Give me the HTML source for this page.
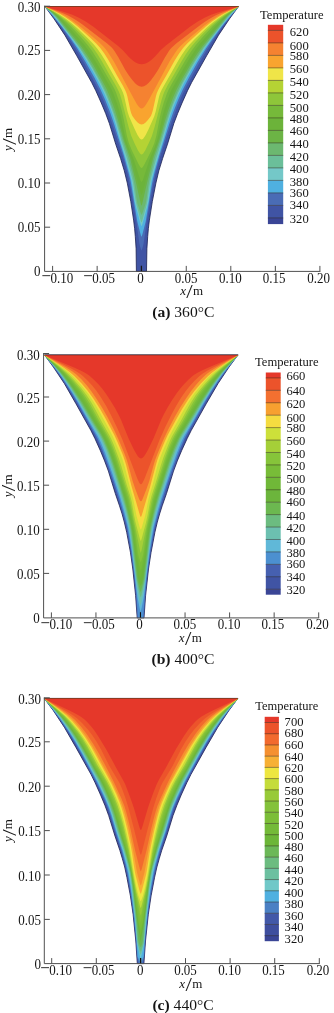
<!DOCTYPE html>
<html><head><meta charset="utf-8"><title>Temperature contours</title>
<style>html,body{margin:0;padding:0;background:#fff}svg{display:block}</style></head>
<body>
<svg xmlns="http://www.w3.org/2000/svg" width="334" height="1013" viewBox="0 0 334 1013">
<g>
<polygon points="45,6.5 54,18.8 64.9,35.2 76.8,55.8 91.7,82.5 95.8,90.7 101.3,103 105.6,113.3 109.4,123.5 115.7,144.1 120.6,158.5 124.3,170.8 127.3,183.1 130.8,201.6 133.6,220.1 134.6,228.3 135.3,236.5 136.1,248.8 136.4,271.4 146.5,271.4 146.9,248.8 147.7,236.5 148.4,228.3 149.4,220.1 152.3,201.6 155.9,183.1 158.8,170.8 162.6,158.5 167.5,144.1 173.8,123.5 177.7,113.3 182,103 187.5,90.7 191.6,82.5 206.6,55.8 218.5,35.2 229.5,18.8 238.5,6.5" fill="#4054a4" stroke="#1c2152" stroke-width="0.8" stroke-linejoin="round"/>
<polygon points="44.8,6.5 61,27 69.8,39.5 76.5,50 84.7,64 97.2,87 101.3,95.5 106.4,107.5 111.1,120.5 122.4,155 124.9,163.5 127.9,175 130.5,187.5 136.3,221.5 139.4,243.5 140.1,246.5 141.5,250.8 142.9,246.5 143.6,243.5 146.7,221.5 152.6,187.5 155.2,175 158.3,163.5 160.7,155 172.1,120.5 176.9,107.5 182,95.5 186.1,87 198.7,64 206.9,50 213.7,39.5 222.4,27 238.8,6.5" fill="#4a6cb5"/>
<polygon points="44.8,6.5 52.2,15 61.7,26.5 70.9,39 77.4,48.5 85.9,62.5 94.6,78 100.5,89.5 105,99.5 109.8,111.5 113.9,123.5 123.7,155 128.4,172 130.2,179 131.3,185 137.3,221.5 140.1,232.5 141.1,236 141.5,236.8 141.9,236 142.9,232.5 145.7,221.5 151.8,185 153,179 154.7,172 159.5,155 169.4,123.5 173.5,111.5 178.3,99.5 182.8,89.5 188.8,78 197.4,62.5 206,48.5 212.6,39 221.8,26.5 231.3,15 238.8,6.5" fill="#4fb0e0"/>
<polygon points="44.8,6.5 52.4,14.5 59.6,23 70.8,37.5 78.1,47.5 85.9,59.5 91.9,69.5 99.5,83.5 104.3,93.5 109.4,105.5 113,115.5 115.4,123.5 120,140 125.5,158 129.9,174 131.5,180.5 132.6,187 134.5,200 135.4,204.5 140.3,223 141.1,225.5 141.5,226 141.9,225.5 142.7,223 147.7,204.5 148.6,200 150.5,187 151.6,180.5 153.2,174 157.7,158 163.2,140 167.8,123.5 170.3,115.5 173.9,105.5 179,93.5 183.8,83.5 191.5,69.5 197.5,59.5 205.4,47.5 212.6,37.5 223.8,23 231.1,14.5 238.8,6.5" fill="#74c8c8"/>
<polygon points="44.8,6.5 52.1,13.5 57.1,19 73.5,40 79.4,48 86.3,58.5 92.4,68.5 100.4,83 105.1,92.5 110.1,104.5 113.9,115 116.4,123 121.2,140 126.8,158 130.9,173.5 132.6,180.5 133.7,187 135.4,199.5 136.4,204.5 140.5,220 141.1,221.9 141.5,222.3 141.9,221.9 142.5,220 146.7,204.5 147.7,199.5 149.4,187 150.5,180.5 152.2,173.5 156.4,158 162,140 166.9,123 169.4,115 173.2,104.5 178.3,92.5 183,83 191,68.5 197.1,58.5 204,48 210,40 226.4,19 231.3,13.5 238.8,6.5" fill="#6bbf9a"/>
<polygon points="44.8,6.5 51.8,12.5 56.6,17.5 80.1,47.5 86.8,57.5 92.9,67.5 101.3,82.5 105.8,91.5 110.2,102 114.4,113.5 117.3,122.5 122.5,140 128.2,157.5 131.9,171.5 133.8,180 134.9,186.5 136.6,199 137.4,203.5 140.4,212.5 141.1,214.2 141.5,214.7 142,214.2 142.7,212.5 145.7,203.5 146.5,199 148.2,186.5 149.3,180 151.3,171.5 154.9,157.5 160.7,140 165.9,122.5 168.8,113.5 173.1,102 177.5,91.5 182.1,82.5 190.4,67.5 196.6,57.5 203.3,47.5 226.9,17.5 231.7,12.5 238.8,6.5" fill="#6cb870"/>
<polygon points="44.8,6.5 52.3,12.5 55.1,15 57.5,17.5 60.5,21 81.5,47 87.3,55.5 93.2,65 102.3,81 106.8,89.5 110.6,98.5 114.9,110 118,120 123.5,139.5 130,158 136.1,183 140.6,203 141.2,205 141.5,205.7 141.9,205 142.4,203 147,183 153.2,158 159.7,139.5 165.2,120 168.4,110 172.7,98.5 176.6,89.5 181,81 190.2,65 196.1,55.5 202,47 222.9,21 225.9,17.5 228.4,15 231.1,12.5 238.8,6.5" fill="#6cb445"/>
<polygon points="44.8,6.5 53.6,13 56.5,15.5 59,18 63.1,22.5 82.8,46 87.8,53 93.8,62.5 103.9,80 108,87.5 110.1,92 112.4,97.5 114.8,104 117.1,111 119.6,119.5 124.2,138 126.2,144 131.6,158.5 140,190.5 141,194 141.5,195 142.1,194 143.1,190.5 151.5,158.5 157,144 159,138 163.7,119.5 166.2,111 168.5,104 170.9,97.5 173.2,92 175.4,87.5 179.5,80 189.6,62.5 195.6,53 200.6,46 220.4,22.5 224.5,18 227,15.5 229.9,13 238.8,6.5" fill="#6cb33a"/>
<polygon points="44.8,6.5 54.9,13.5 57.9,16 61.2,19 67.9,26 83.3,43.5 87.9,49.5 93.9,58.5 98.4,66 109.2,85 111.6,89.5 113.2,93 117,103.5 119.1,110 120.8,116.5 124.6,134.5 126.4,141 128.5,147 133.7,159.5 140.1,179.5 141,181.5 141.6,182 142.1,181.5 143.1,179.5 149.5,159.5 154.7,147 156.8,141 158.6,134.5 162.4,116.5 164.2,110 166.2,103.5 170.1,93 171.7,89.5 174.1,85 185,66 189.5,58.5 195.5,49.5 200.1,43.5 215.5,26 222.3,19 225.5,16 228.6,13.5 238.8,6.5" fill="#76b93a"/>
<polygon points="44.8,6.5 52.7,11.5 58.4,15.5 65,21 70.9,26.5 80.8,37 87.6,45 92.4,51.5 98.1,60.5 112.5,85.5 114.7,89.5 116.2,93 119.3,102 122,111.5 123.8,119.5 126.8,135.5 128.8,143 132.1,151 138.5,164 140.2,167 141,167.8 141.6,168 142.1,167.8 142.9,167 144.6,164 151.1,151 154.4,143 156.4,135.5 159.4,119.5 161.2,111.5 163.9,102 167.1,93 168.7,89.5 170.8,85.5 185.2,60.5 191,51.5 195.8,45 202.7,37 212.5,26.5 218.4,21 225.1,15.5 230.8,11.5 238.8,6.5" fill="#8ec63a"/>
<polygon points="44.8,6.5 53.3,11.5 58.8,15 66.2,20.5 72.2,25.5 80.8,34 88.3,42 93.2,48 97.4,54 102,61.5 109.3,74.5 115.5,85 118.8,91.5 120.2,95 121.8,100.5 128.6,127 131.3,136 134.6,143.5 138,150.5 140,153.5 140.9,154.3 141.6,154.5 142.3,154.3 143.2,153.5 145.2,150.5 148.6,143.5 151.9,136 154.6,127 161.4,100.5 163.1,95 164.5,91.5 167.8,85 174,74.5 181.4,61.5 186,54 190.2,48 195.2,42 202.6,34 211.3,25.5 217.3,20.5 224.7,15 230.1,11.5 238.8,6.5" fill="#b5d334"/>
<polygon points="44.8,6.5 53.4,11 59.5,14.5 65.4,18.5 71.3,23 76.5,27.5 88.5,39 93.8,44.5 97.9,49.5 101.7,55 105.1,60.5 121.6,89.5 123.1,93 124.2,96.5 127.5,111.5 129.1,116.5 134.4,128.5 137.5,135 139.8,138.5 140.8,139.3 141.6,139.5 142.4,139.3 143.4,138.5 145.7,135 148.9,128.5 154.2,116.5 155.7,111.5 159.1,96.5 160.2,93 161.8,89.5 178.3,60.5 181.7,55 185.5,49.5 189.6,44.5 194.9,39 206.9,27.5 212.1,23 218.1,18.5 224,14.5 230.1,11 238.8,6.5" fill="#f0e548"/>
<polygon points="44.8,6.5 54.3,11 60.1,14 65,17 71.4,21.5 77.7,26.5 90.5,38 96.2,43.5 100.3,48 104.3,53.5 108.7,60.5 116.7,75 122.8,85.5 125.1,90 126.4,93 127.3,96 130.4,110.5 131.3,113.5 132.4,116 135.3,120 137.6,122.5 139.7,124 141.6,124.5 143.6,124 145.6,122.5 147.9,120 150.9,116 151.9,113.5 152.8,110.5 156,96 156.9,93 158.2,90 160.5,85.5 166.6,75 174.7,60.5 179.1,53.5 183.1,48 187.2,43.5 193,38 205.8,26.5 212,21.5 218.5,17 223.4,14 229.2,11 238.8,6.5" fill="#f9a42f"/>
<polygon points="44.8,6.5 55.3,11 61.6,14 66.1,16.5 72.3,20.5 79,25.5 93.5,37.5 99.3,42.5 103.4,46.5 105.6,49 108.1,52.5 113.9,61.5 134,99 136.5,103.5 138.2,106 139.6,107.5 140.7,108.3 141.6,108.5 142.5,108.3 143.7,107.5 145,106 146.7,103.5 149.3,99 169.5,61.5 175.3,52.5 177.8,49 180,46.5 184.2,42.5 190,37.5 204.4,25.5 211.2,20.5 217.4,16.5 221.8,14 228.2,11 238.8,6.5" fill="#f58231"/>
<polygon points="44.8,6.5 57.3,11 63.7,13.5 68.1,15.5 73.4,18.5 78.2,21.5 82.5,24.5 107.2,43.5 111.7,47.5 113,49 114.8,51.5 118.5,57.5 125.3,70 128.9,75.5 132.3,80 134.9,83 137.1,85 139.4,86.3 141.7,86.8 143.9,86.3 146.2,85 148.5,83 151.1,80 154.4,75.5 158,70 164.9,57.5 168.6,51.5 170.4,49 171.8,47.5 176.2,43.5 201,24.5 205.3,21.5 210.1,18.5 215.4,15.5 219.8,13.5 226.2,11 238.8,6.5" fill="#ec532b"/>
<polygon points="44.8,6.5 62.5,11.5 71.8,14.5 78.4,17.5 85.7,21.5 93.1,26.5 117.5,45.5 122.6,50 128.4,56.5 131,59 133.4,61 135.7,62.5 137.7,63.5 139.7,64.1 141.7,64.3 143.7,64.1 145.6,63.5 147.7,62.5 150,61 152.4,59 155,56.5 160.8,50 165.9,45.5 190.3,26.5 197.8,21.5 205,17.5 211.7,14.5 221,11.5 238.8,6.5" fill="#e5382a"/>
<line x1="44.75" y1="6.5" x2="238.75" y2="6.5" stroke="#40261c" stroke-width="0.8" opacity="0.75"/>
<g stroke="#505050" stroke-width="1" fill="none">
<path d="M44.6 5.7 V271.4 H320.4"/>
<path d="M52.6 271.4 v-5.5M97.15 271.4 v-5.5M141.7 271.4 v-5.5M186.25 271.4 v-5.5M230.8 271.4 v-5.5M275.35 271.4 v-5.5M319.9 271.4 v-5.5M44.6 227.2 h5.5M44.6 183 h5.5M44.6 138.8 h5.5M44.6 94.6 h5.5M44.6 50.4 h5.5M44.6 6.2 h5.5"/>
</g>
<line x1="141.36" y1="271" x2="141.36" y2="265.8" stroke="#111" stroke-width="1.1"/>
<g font-family='"Liberation Serif", "DejaVu Serif", serif' font-size="13" fill="#151515">
<text transform="translate(41.5 282.75) scale(1 1.08)"><tspan font-size="17" dy="-0.5">−</tspan><tspan dy="0.5" dx="-0.6">0.10</tspan></text>
<text transform="translate(83.3 282.75) scale(1 1.08)"><tspan font-size="17" dy="-0.5">−</tspan><tspan dy="0.5" dx="-0.6">0.05</tspan></text>
<text transform="translate(140.5 282.75) scale(1 1.08)" text-anchor="middle">0</text>
<text transform="translate(186.1 282.75) scale(1 1.08)" text-anchor="middle">0.05</text>
<text transform="translate(230.3 282.75) scale(1 1.08)" text-anchor="middle">0.10</text>
<text transform="translate(274.1 282.75) scale(1 1.08)" text-anchor="middle">0.15</text>
<text transform="translate(318.7 282.75) scale(1 1.08)" text-anchor="middle">0.20</text>
<text transform="translate(40.6 276.15) scale(1 1.08)" text-anchor="end">0</text>
<text transform="translate(40.6 232.25) scale(1 1.08)" text-anchor="end">0.05</text>
<text transform="translate(40.6 188.05) scale(1 1.08)" text-anchor="end">0.10</text>
<text transform="translate(40.6 143.85) scale(1 1.08)" text-anchor="end">0.15</text>
<text transform="translate(40.6 99.65) scale(1 1.08)" text-anchor="end">0.20</text>
<text transform="translate(40.6 55.45) scale(1 1.08)" text-anchor="end">0.25</text>
<text transform="translate(40.6 12.25) scale(1 1.08)" text-anchor="end">0.30</text>
<text x="180.2" y="295"><tspan font-style="italic">x</tspan><tspan font-size="18" dx="0.4" dy="3.4" textLength="6.4" lengthAdjust="spacingAndGlyphs">/</tspan><tspan dy="-3.4" dx="0.3">m</tspan></text>
<text transform="translate(12.4 150.95) rotate(-90)"><tspan font-style="italic">y</tspan><tspan font-size="18" dx="0.4" dy="3.4" textLength="6.4" lengthAdjust="spacingAndGlyphs">/</tspan><tspan dy="-3.4" dx="0.3">m</tspan></text>
</g>
<text x="183.3" y="317.1" font-family='"Liberation Serif", "DejaVu Serif", serif' font-size="15.6" fill="#151515" text-anchor="middle"><tspan font-weight="bold">(a)</tspan> 360°C</text>
<text x="260" y="18.5" font-family='"Liberation Serif", "DejaVu Serif", serif' font-size="13" fill="#151515" textLength="63.5" lengthAdjust="spacingAndGlyphs">Temperature</text>
<rect x="267.9" y="24.8" width="15.3" height="5.9" fill="#e5382a"/>
<rect x="267.9" y="30.4" width="15.3" height="12.8" fill="#ec532b"/>
<rect x="267.9" y="42.9" width="15.3" height="12.8" fill="#f58231"/>
<rect x="267.9" y="55.4" width="15.3" height="12.8" fill="#f9a42f"/>
<rect x="267.9" y="67.9" width="15.3" height="12.8" fill="#f0e548"/>
<rect x="267.9" y="80.4" width="15.3" height="12.8" fill="#b5d334"/>
<rect x="267.9" y="92.9" width="15.3" height="12.8" fill="#8ec63a"/>
<rect x="267.9" y="105.4" width="15.3" height="12.8" fill="#76b93a"/>
<rect x="267.9" y="117.9" width="15.3" height="12.8" fill="#6cb33a"/>
<rect x="267.9" y="130.4" width="15.3" height="12.8" fill="#6cb445"/>
<rect x="267.9" y="142.9" width="15.3" height="12.8" fill="#6cb870"/>
<rect x="267.9" y="155.4" width="15.3" height="12.8" fill="#6bbf9a"/>
<rect x="267.9" y="167.9" width="15.3" height="12.8" fill="#74c8c8"/>
<rect x="267.9" y="180.4" width="15.3" height="12.8" fill="#4fb0e0"/>
<rect x="267.9" y="192.9" width="15.3" height="12.8" fill="#4a6cb5"/>
<rect x="267.9" y="205.4" width="15.3" height="12.8" fill="#4054a4"/>
<rect x="267.9" y="217.9" width="15.3" height="6.2" fill="#3a4596"/>
<path d="M267.9 30.4 h15.3M267.9 42.9 h15.3M267.9 55.4 h15.3M267.9 67.9 h15.3M267.9 80.4 h15.3M267.9 92.9 h15.3M267.9 105.4 h15.3M267.9 117.9 h15.3M267.9 130.4 h15.3M267.9 142.9 h15.3M267.9 155.4 h15.3M267.9 167.9 h15.3M267.9 180.4 h15.3M267.9 192.9 h15.3M267.9 205.4 h15.3M267.9 217.9 h15.3" stroke="#30281c" stroke-width="0.7" opacity="0.7"/>
<g font-family='"Liberation Serif", "DejaVu Serif", serif' font-size="12.6" fill="#151515">
<text transform="translate(289.8 36.25) scale(1 1.06)">620</text>
<text transform="translate(289.8 49.65) scale(1 1.06)">600</text>
<text transform="translate(289.8 60.45) scale(1 1.06)">580</text>
<text transform="translate(289.8 73.05) scale(1 1.06)">560</text>
<text transform="translate(289.8 86.45) scale(1 1.06)">540</text>
<text transform="translate(289.8 98.65) scale(1 1.06)">520</text>
<text transform="translate(289.8 112.45) scale(1 1.06)">500</text>
<text transform="translate(289.8 123.05) scale(1 1.06)">480</text>
<text transform="translate(289.8 135.15) scale(1 1.06)">460</text>
<text transform="translate(289.8 147.75) scale(1 1.06)">440</text>
<text transform="translate(289.8 160.95) scale(1 1.06)">420</text>
<text transform="translate(289.8 172.75) scale(1 1.06)">400</text>
<text transform="translate(289.8 185.75) scale(1 1.06)">380</text>
<text transform="translate(289.8 197.05) scale(1 1.06)">360</text>
<text transform="translate(289.8 209.15) scale(1 1.06)">340</text>
<text transform="translate(289.8 222.65) scale(1 1.06)">320</text>
</g>
</g>
<g>
<polygon points="44.5,354.9 53.4,367.1 64.3,383.4 76,403.8 90.8,430.3 94.9,438.5 100.4,450.7 104.6,460.9 108.4,471.1 115.3,493.5 119.5,505.8 122.1,513.9 124.3,522.1 126.7,532.3 130.5,552.7 132.8,569 135.6,595.5 137.2,617.9 144,617.9 145.6,595.5 148.5,569 151,552.7 154.9,532.3 157.3,522.1 159.6,513.9 162.2,505.8 166.5,493.5 173.5,471.1 177.3,460.9 181.6,450.7 187.2,438.5 191.3,430.3 206.2,403.8 218.1,383.4 229,367.1 238,354.9" fill="#4054a4" stroke="#1c2152" stroke-width="0.8" stroke-linejoin="round"/>
<polygon points="44.2,354.9 53.5,366.9 59.9,375.9 67.7,387.9 75.4,400.9 86.2,420.4 93.9,433.4 96.5,438.4 101,448.9 106.9,464.9 114.2,486.4 120.9,507.9 125,522.4 126.9,530.4 130.7,551.4 133.8,573.9 135.9,595.4 137.3,617.9 143.8,617.9 145.4,595.4 147.6,573.9 150.8,551.4 154.6,530.4 156.6,522.4 160.8,507.9 167.7,486.4 175.1,464.9 181,448.9 185.5,438.4 188.2,433.4 196,420.4 206.8,400.9 214.7,387.9 222.5,375.9 229,366.9 238.2,354.9" fill="#4660b0"/>
<polygon points="44.2,354.9 54,366.9 60.7,375.9 69,388.4 76.9,401.4 94.6,432.9 97.6,438.4 102.5,449.9 108.5,465.9 113.8,481.4 119.4,498.9 123.6,513.4 126.6,524.4 127.8,529.9 131.2,549.9 134.5,575.4 136.6,596.4 137.9,617.9 143.2,617.9 144.7,596.4 146.8,575.4 150.3,549.9 153.8,529.9 155.1,524.4 158.1,513.4 162.3,498.9 168,481.4 173.4,465.9 179.5,449.9 184.5,438.4 187.4,432.9 205.3,401.4 213.3,388.4 221.7,375.9 228.5,366.9 238.2,354.9" fill="#4c90d0"/>
<polygon points="44.2,354.9 53.6,365.9 59.9,373.9 66.5,383.4 73,393.4 79,403.4 89.2,421.4 97.7,435.9 101.1,442.9 105.1,452.9 111.5,470.9 119.9,496.4 123.9,510.4 128,526.4 129.9,536.9 132,551.4 137.5,597.4 139.5,607.4 140.6,612 141.7,607.4 143.7,597.4 149.5,551.4 151.7,536.9 153.6,526.4 157.8,510.4 161.9,496.4 170.4,470.9 176.9,452.9 180.9,442.9 184.3,435.9 192.9,421.4 203.2,403.4 209.3,393.4 215.8,383.4 222.5,373.9 228.9,365.9 238.2,354.9" fill="#60b8d8"/>
<polygon points="44.2,354.9 53.5,365.4 59.6,372.9 65.5,380.9 71.5,389.9 78.7,401.4 90.3,421.4 98.9,435.4 101.7,440.9 105.5,449.9 111.5,466.9 121.3,497.4 125.2,510.9 128.2,523.4 129.5,529.9 131.4,542.4 137,587.4 138.6,596.9 140.6,606 142.6,596.9 144.3,587.4 150.1,542.4 152,529.9 153.4,523.4 156.5,510.9 160.4,497.4 170.4,466.9 176.5,449.9 180.3,440.9 183.2,435.4 191.8,421.4 203.6,401.4 210.8,389.9 216.9,380.9 222.8,372.9 229,365.4 238.2,354.9" fill="#6cc0b0"/>
<polygon points="44.2,354.9 53.4,364.9 59.8,372.4 65.5,379.9 71.4,388.4 79.9,401.9 91.5,421.4 99.8,434.9 102.5,439.9 106.6,449.4 112.2,464.9 122,495.9 125.4,507.4 127.5,515.9 129.8,526.4 131.2,535.4 136.5,579.4 139.7,594.4 140.6,597.6 141.6,594.4 144.9,579.4 150.3,535.4 151.8,526.4 154.1,515.9 156.3,507.4 159.7,495.9 169.8,464.9 175.5,449.4 179.6,439.9 182.3,434.9 190.7,421.4 202.3,401.9 210.9,388.4 216.8,379.9 222.6,372.4 229,364.9 238.2,354.9" fill="#6cbc80"/>
<polygon points="44.2,354.9 53.9,364.9 60.6,372.4 66.5,379.9 72.5,388.4 81.5,402.4 93.1,421.9 100.8,434.4 103.7,439.9 107.4,448.4 111,457.9 114.5,468.4 123.9,498.4 128,513.9 130.5,525.4 131.8,532.9 133.4,545.9 137.1,577.9 137.9,581.9 140,590.4 140.6,592 141.2,590.4 143.4,581.9 144.2,577.9 148.1,545.9 149.8,532.9 151.1,525.4 153.6,513.9 157.8,498.4 167.4,468.4 171,457.9 174.6,448.4 178.4,439.9 181.3,434.4 189.1,421.9 200.8,402.4 209.9,388.4 215.9,379.9 221.8,372.4 228.6,364.9 238.2,354.9" fill="#6cb850"/>
<polygon points="44.2,354.9 54.4,364.9 61.4,372.4 67.5,379.9 73.6,388.4 83.1,402.9 94.3,421.9 101.7,433.9 104.6,439.4 107.7,446.4 111.4,455.9 115.2,466.9 120.3,483.9 124.8,497.9 128.2,510.9 131,523.4 132.2,529.9 133.9,542.9 138,576.9 138.8,580.9 140.1,584.9 140.6,586 141.2,584.9 142.5,580.9 143.4,576.9 147.6,542.9 149.4,529.9 150.6,523.4 153.5,510.9 156.9,497.9 161.5,483.9 166.8,466.9 170.6,455.9 174.3,446.4 177.4,439.4 180.4,433.9 187.8,421.9 199.2,402.9 208.7,388.4 214.9,379.9 221,372.4 228.1,364.9 238.2,354.9" fill="#6cb53c"/>
<polygon points="44.2,354.9 55.4,365.4 62.2,372.4 68.5,379.9 74.9,388.4 81,397.4 86.6,406.4 95.3,421.4 103.4,434.9 105.6,438.9 107.8,443.9 111.6,453.4 115.4,464.4 121.6,484.4 125.6,496.9 127.6,504.4 132.7,527.9 136.2,555.4 139.9,575.9 140.7,579 141.4,575.9 145.2,555.4 148.9,527.9 154.1,504.4 156.2,496.9 160.3,484.4 166.5,464.4 170.4,453.4 174.2,443.9 176.5,438.9 178.6,434.9 186.9,421.4 195.6,406.4 201.3,397.4 207.4,388.4 213.8,379.9 220.2,372.4 227.1,365.4 238.2,354.9" fill="#70b838"/>
<polygon points="44.2,354.9 55.9,365.4 63.1,372.4 69.7,379.9 76.3,388.4 81.6,395.9 86.6,403.9 96.6,421.4 104.4,434.4 107.7,440.9 111.6,450.4 115.6,461.4 127.5,499.9 133.5,527.4 134.5,533.9 137.1,554.9 139.9,567.9 140.7,571 141.5,567.9 144.3,554.9 147.1,533.9 148.1,527.4 154.2,499.9 166.4,461.4 170.4,450.4 174.4,440.9 177.7,434.4 185.6,421.4 195.6,403.9 200.7,395.9 206,388.4 212.7,379.9 219.3,372.4 226.5,365.4 238.2,354.9" fill="#78bc38"/>
<polygon points="44.2,354.9 56.6,365.4 64.1,372.4 71,379.9 78.2,388.9 83.3,395.9 87.7,402.9 97.7,420.9 105.7,434.4 108.3,439.4 112.3,448.9 116.1,459.4 128.4,498.9 134.6,528.4 138.1,553.9 139,557.4 140.3,561.4 140.7,562 141.1,561.4 142.4,557.4 143.3,553.9 147,528.4 153.4,498.9 165.9,459.4 169.7,448.9 173.8,439.4 176.4,434.4 184.4,420.9 194.6,402.9 199,395.9 204.1,388.9 211.4,379.9 218.3,372.4 225.9,365.4 238.2,354.9" fill="#86c43a"/>
<polygon points="44.2,354.9 57.9,365.9 65.8,372.9 73.3,380.9 80.4,389.4 85.1,395.9 89.6,402.9 99,420.4 106.6,433.4 109.3,438.4 113.3,447.9 117.1,458.4 129.4,497.9 130.7,503.9 133.3,517.9 136.1,530.9 140,550.4 140.7,553 141.5,550.4 145.5,530.9 148.4,517.9 151,503.9 152.4,497.9 164.9,458.4 168.7,447.9 172.8,438.4 175.5,433.4 183.1,420.4 192.7,402.9 197.2,395.9 201.9,389.4 209.1,380.9 216.6,372.9 224.5,365.9 238.2,354.9" fill="#a5cf38"/>
<polygon points="44.2,354.9 58.2,365.4 66.7,372.4 69.9,375.4 73.7,379.4 81.6,388.4 86.9,395.4 91.4,402.4 94.8,408.4 101.4,420.9 109.8,435.9 111.5,439.4 114.1,445.4 118.7,457.9 121.5,466.4 126.8,484.9 130.3,495.9 131.8,501.9 134,514.9 135.6,522.4 139.8,538.4 140.5,540.5 140.8,541 141.1,540.5 141.7,538.4 146,522.4 147.6,514.9 150,501.9 151.5,495.9 155,484.9 160.5,466.4 163.2,457.9 168,445.4 170.5,439.4 172.2,435.9 180.8,420.9 187.5,408.4 190.9,402.4 195.4,395.4 200.8,388.4 208.7,379.4 212.5,375.4 215.7,372.4 224.2,365.4 238.2,354.9" fill="#cde03a"/>
<polygon points="44.2,354.9 57.5,363.9 65.1,369.4 70.6,373.9 75.2,378.4 82,385.9 88.4,393.9 94.1,402.4 99.9,412.4 109.7,430.4 113.1,436.9 119,450.4 122.4,458.9 124.8,466.9 129.2,484.4 133.1,498.4 136.4,515.4 139.8,527.4 140.4,529 140.8,529.5 141.2,529 141.8,527.4 145.2,515.4 148.6,498.4 152.7,484.4 157.1,466.9 159.6,458.9 163,450.4 169,436.9 172.4,430.4 182.3,412.4 188.2,402.4 193.9,393.9 200.3,385.9 207.1,378.4 211.8,373.9 217.3,369.4 225,363.9 238.2,354.9" fill="#f5dc40"/>
<polygon points="44.2,354.9 64.1,367.9 70.2,372.4 74.3,375.9 81.6,383.4 87.9,390.9 93.7,398.9 100.1,408.9 105.5,418.4 114.3,434.9 117.7,442.4 122.9,454.9 124.6,459.9 126,464.4 131.6,486.4 139.1,512.4 140.2,515.9 140.8,517 141.5,515.9 142.6,512.4 150.2,486.4 156,464.4 157.3,459.9 159.1,454.9 164.3,442.4 167.7,434.9 176.7,418.4 182.1,408.9 188.5,398.9 194.4,390.9 200.8,383.4 208.1,375.9 212.2,372.4 218.3,367.9 238.2,354.9" fill="#f7a030"/>
<polygon points="44.2,354.9 66.1,367.4 72.4,371.4 76.4,374.4 81.6,379.4 86.9,385.4 91.5,391.4 96.6,398.9 102,407.4 107.2,416.4 113.9,429.4 118.1,438.4 124.2,452.9 126.8,459.9 128.7,466.4 132.6,480.9 135.3,488.9 139.1,498.9 140.2,500.9 140.9,501.3 141.6,500.9 142.6,498.9 146.5,488.9 149.3,480.9 153.2,466.4 155.1,459.9 157.8,452.9 163.9,438.4 168.2,429.4 175,416.4 180.2,407.4 185.7,398.9 190.8,391.4 195.5,385.4 200.8,379.4 206,374.4 210,371.4 216.3,367.4 238.2,354.9" fill="#f37030"/>
<polygon points="44.2,354.9 69.4,367.4 74.8,370.4 79.6,373.4 82.9,375.9 88,380.9 92.2,385.4 96.2,390.4 101,397.4 106.2,405.9 110.7,414.4 116.8,426.9 122.4,439.4 137.5,478.9 139.4,482.9 140.2,483.9 140.9,484.2 141.6,483.9 142.4,482.9 144.4,478.9 159.7,439.4 165.3,426.9 171.5,414.4 176.1,405.9 181.2,397.4 186.1,390.4 190.2,385.4 194.3,380.9 199.5,375.9 202.8,373.4 207.6,370.4 213.1,367.4 238.2,354.9" fill="#ec532b"/>
<polygon points="44.2,354.9 74,367.4 79.5,369.9 84.5,372.4 87.8,374.4 89.8,375.9 94.2,379.9 98.2,383.9 102.1,388.4 105.8,393.4 110.4,400.4 115,407.9 118.2,413.9 120.9,419.4 128.4,437.9 133.6,448.9 136.1,453.4 138,456.4 139.7,458.1 141,458.5 142.3,458.1 143.9,456.4 145.9,453.4 148.4,448.9 153.7,437.9 161.3,419.4 164,413.9 167.3,407.9 171.8,400.4 176.5,393.4 180.3,388.4 184.2,383.9 188.1,379.9 192.5,375.9 194.6,374.4 197.9,372.4 202.9,369.9 208.5,367.4 238.2,354.9" fill="#e5382a"/>
<line x1="44.25" y1="354.9" x2="238.25" y2="354.9" stroke="#40261c" stroke-width="0.8" opacity="0.75"/>
<g stroke="#505050" stroke-width="1" fill="none">
<path d="M43.6 353 V617.9 H319.2"/>
<path d="M51.4 617.9 v-5.5M95.95 617.9 v-5.5M140.5 617.9 v-5.5M185.05 617.9 v-5.5M229.6 617.9 v-5.5M274.15 617.9 v-5.5M318.7 617.9 v-5.5M43.6 573.4 h5.5M43.6 529.3 h5.5M43.6 485.2 h5.5M43.6 441.1 h5.5M43.6 397 h5.5M43.6 353.5 h5.5"/>
</g>
<line x1="140.47" y1="617.5" x2="140.47" y2="612.3" stroke="#111" stroke-width="1.1"/>
<g font-family='"Liberation Serif", "DejaVu Serif", serif' font-size="13" fill="#151515">
<text transform="translate(40.6 629.25) scale(1 1.08)"><tspan font-size="17" dy="-0.5">−</tspan><tspan dy="0.5" dx="-0.6">0.10</tspan></text>
<text transform="translate(82.9 629.25) scale(1 1.08)"><tspan font-size="17" dy="-0.5">−</tspan><tspan dy="0.5" dx="-0.6">0.05</tspan></text>
<text transform="translate(139.6 629.25) scale(1 1.08)" text-anchor="middle">0</text>
<text transform="translate(184.9 629.25) scale(1 1.08)" text-anchor="middle">0.05</text>
<text transform="translate(229.1 629.25) scale(1 1.08)" text-anchor="middle">0.10</text>
<text transform="translate(272.9 629.25) scale(1 1.08)" text-anchor="middle">0.15</text>
<text transform="translate(317.5 629.25) scale(1 1.08)" text-anchor="middle">0.20</text>
<text transform="translate(39.8 622.95) scale(1 1.08)" text-anchor="end">0</text>
<text transform="translate(39.8 579.15) scale(1 1.08)" text-anchor="end">0.05</text>
<text transform="translate(39.8 535.05) scale(1 1.08)" text-anchor="end">0.10</text>
<text transform="translate(39.8 490.95) scale(1 1.08)" text-anchor="end">0.15</text>
<text transform="translate(39.8 446.85) scale(1 1.08)" text-anchor="end">0.20</text>
<text transform="translate(39.8 402.75) scale(1 1.08)" text-anchor="end">0.25</text>
<text transform="translate(39.8 360.25) scale(1 1.08)" text-anchor="end">0.30</text>
<text x="178.8" y="641.5"><tspan font-style="italic">x</tspan><tspan font-size="18" dx="0.4" dy="3.4" textLength="6.4" lengthAdjust="spacingAndGlyphs">/</tspan><tspan dy="-3.4" dx="0.3">m</tspan></text>
<text transform="translate(11.8 497.3) rotate(-90)"><tspan font-style="italic">y</tspan><tspan font-size="18" dx="0.4" dy="3.4" textLength="6.4" lengthAdjust="spacingAndGlyphs">/</tspan><tspan dy="-3.4" dx="0.3">m</tspan></text>
</g>
<text x="183" y="664" font-family='"Liberation Serif", "DejaVu Serif", serif' font-size="15.6" fill="#151515" text-anchor="middle"><tspan font-weight="bold">(b)</tspan> 400°C</text>
<text x="255" y="365.8" font-family='"Liberation Serif", "DejaVu Serif", serif' font-size="13" fill="#151515" textLength="63.5" lengthAdjust="spacingAndGlyphs">Temperature</text>
<rect x="265.8" y="372.5" width="14.9" height="5.7" fill="#e5382a"/>
<rect x="265.8" y="377.9" width="14.9" height="12.73" fill="#ec532b"/>
<rect x="265.8" y="390.33" width="14.9" height="12.73" fill="#f37030"/>
<rect x="265.8" y="402.76" width="14.9" height="12.73" fill="#f7a030"/>
<rect x="265.8" y="415.19" width="14.9" height="12.73" fill="#f5dc40"/>
<rect x="265.8" y="427.62" width="14.9" height="12.73" fill="#cde03a"/>
<rect x="265.8" y="440.05" width="14.9" height="12.73" fill="#a5cf38"/>
<rect x="265.8" y="452.48" width="14.9" height="12.73" fill="#86c43a"/>
<rect x="265.8" y="464.91" width="14.9" height="12.73" fill="#78bc38"/>
<rect x="265.8" y="477.34" width="14.9" height="12.73" fill="#70b838"/>
<rect x="265.8" y="489.77" width="14.9" height="12.73" fill="#6cb53c"/>
<rect x="265.8" y="502.2" width="14.9" height="12.73" fill="#6cb850"/>
<rect x="265.8" y="514.63" width="14.9" height="12.73" fill="#6cbc80"/>
<rect x="265.8" y="527.06" width="14.9" height="12.73" fill="#6cc0b0"/>
<rect x="265.8" y="539.49" width="14.9" height="12.73" fill="#60b8d8"/>
<rect x="265.8" y="551.92" width="14.9" height="12.73" fill="#4c90d0"/>
<rect x="265.8" y="564.35" width="14.9" height="12.73" fill="#4660b0"/>
<rect x="265.8" y="576.78" width="14.9" height="12.73" fill="#4054a4"/>
<rect x="265.8" y="589.21" width="14.9" height="5.49" fill="#3a4596"/>
<path d="M265.8 377.9 h14.9M265.8 390.33 h14.9M265.8 402.76 h14.9M265.8 415.19 h14.9M265.8 427.62 h14.9M265.8 440.05 h14.9M265.8 452.48 h14.9M265.8 464.91 h14.9M265.8 477.34 h14.9M265.8 489.77 h14.9M265.8 502.2 h14.9M265.8 514.63 h14.9M265.8 527.06 h14.9M265.8 539.49 h14.9M265.8 551.92 h14.9M265.8 564.35 h14.9M265.8 576.78 h14.9M265.8 589.21 h14.9" stroke="#30281c" stroke-width="0.7" opacity="0.7"/>
<g font-family='"Liberation Serif", "DejaVu Serif", serif' font-size="12.6" fill="#151515">
<text transform="translate(286.4 380.25) scale(1 1.06)">660</text>
<text transform="translate(286.4 394.75) scale(1 1.06)">640</text>
<text transform="translate(286.4 408.25) scale(1 1.06)">620</text>
<text transform="translate(286.4 421.65) scale(1 1.06)">600</text>
<text transform="translate(286.4 431.65) scale(1 1.06)">580</text>
<text transform="translate(286.4 444.75) scale(1 1.06)">560</text>
<text transform="translate(286.4 457.85) scale(1 1.06)">540</text>
<text transform="translate(286.4 470.35) scale(1 1.06)">520</text>
<text transform="translate(286.4 483.45) scale(1 1.06)">500</text>
<text transform="translate(286.4 495.15) scale(1 1.06)">480</text>
<text transform="translate(286.4 506.45) scale(1 1.06)">460</text>
<text transform="translate(286.4 519.75) scale(1 1.06)">440</text>
<text transform="translate(286.4 532.25) scale(1 1.06)">420</text>
<text transform="translate(286.4 544.85) scale(1 1.06)">400</text>
<text transform="translate(286.4 557.45) scale(1 1.06)">380</text>
<text transform="translate(286.4 568.35) scale(1 1.06)">360</text>
<text transform="translate(286.4 580.55) scale(1 1.06)">340</text>
<text transform="translate(286.4 594.35) scale(1 1.06)">320</text>
</g>
</g>
<g>
<polygon points="44.3,698.4 53.4,710.7 64.3,727.2 76.1,747.7 91.1,774.5 95.1,782.7 100.6,795 104.9,805.3 108.7,815.6 115,836.1 119.9,850.5 122.4,858.8 124.7,867 126.9,877.3 130.4,895.8 133.1,914.3 135.8,941 137.3,963.6 143.9,963.6 145.5,941 148.3,914.3 151.1,895.8 154.6,877.3 156.9,867 159.2,858.8 161.7,850.5 166.7,836.1 173,815.6 176.9,805.3 181.2,795 186.8,782.7 190.9,774.5 205.9,747.7 217.8,727.2 228.8,710.7 237.8,698.4" fill="#3e4e9e" stroke="#1c2152" stroke-width="0.8" stroke-linejoin="round"/>
<polygon points="44.1,698.4 53.2,710.4 59.9,719.9 67.9,732.4 75.4,744.9 82.6,757.9 95.6,782.4 103,798.4 107.3,808.9 109.6,815.9 114.2,830.9 120.8,850.9 125.2,867.4 127.8,879.4 130.6,895.4 133.6,917.9 135.6,937.4 136.9,955.9 137.7,963.6 143.5,963.6 144.3,955.9 145.7,937.4 147.7,917.9 150.8,895.4 153.7,879.4 156.4,867.4 160.9,850.9 167.5,830.9 172.1,815.9 174.5,808.9 178.8,798.4 186.3,782.4 199.4,757.9 206.7,744.9 214.1,732.4 222.3,719.9 229,710.4 238.1,698.4" fill="#4258a8"/>
<polygon points="44.1,698.4 53.1,709.9 59.8,718.9 68.2,731.4 75.2,742.9 82.2,755.4 96.5,782.4 104.3,798.9 108.2,808.4 110.5,815.4 115.1,830.9 121.5,850.4 125.4,864.9 127.6,874.4 130.6,891.4 133.3,911.4 136,936.9 137.3,956.4 138.5,961.9 138.6,963.6 142.6,963.6 142.7,961.9 144,956.4 145.3,936.9 148.1,911.4 150.9,891.4 154,874.4 156.2,864.9 160.1,850.4 166.6,830.9 171.3,815.4 173.6,808.4 177.5,798.9 185.3,782.4 199.8,755.4 206.8,742.9 213.9,731.4 222.3,718.9 229,709.9 238.1,698.4" fill="#4a80c4"/>
<polygon points="44.1,698.4 53.5,709.9 60.4,718.9 68.6,730.9 75.5,741.9 82.3,753.9 97.2,781.9 104.8,797.9 108.8,807.4 111.3,814.9 116.1,831.4 122.2,849.9 125.8,863.4 128,872.4 131,890.4 134.2,914.9 136.4,937.9 137.6,955.9 137.8,956.9 139.4,960.4 140.1,961.7 140.6,962 141.1,961.7 141.8,960.4 143.4,956.9 143.6,955.9 144.9,937.9 147.2,914.9 150.4,890.4 153.6,872.4 155.7,863.4 159.4,849.9 165.6,831.4 170.5,814.9 173,807.4 177,797.9 184.7,781.9 199.7,753.9 206.5,741.9 213.4,730.9 221.8,718.9 228.6,709.9 238.1,698.4" fill="#50b0e0"/>
<polygon points="44.1,698.4 53.9,709.9 60.6,718.4 68.7,729.9 75.7,740.9 82.8,753.4 97.8,781.4 104.9,796.4 109.1,806.4 111.8,814.4 116.8,831.4 122.9,849.9 126.8,863.9 128.7,871.9 131.1,886.4 134,909.4 135.5,923.4 136.6,937.9 137.1,942.9 140,956.4 140.6,958.5 141.2,956.4 144.1,942.9 144.7,937.9 145.9,923.4 147.4,909.4 150.4,886.4 152.9,871.9 154.8,863.9 158.7,849.9 164.9,831.4 169.9,814.4 172.7,806.4 176.9,796.4 184.1,781.4 199.2,753.4 206.4,740.9 213.4,729.9 221.5,718.4 228.3,709.9 238.1,698.4" fill="#70c8c8"/>
<polygon points="44.1,698.4 54.3,709.9 61.2,718.4 68.6,728.9 75.7,739.9 83.5,753.4 98.6,781.4 105.2,795.4 109.6,805.9 112.5,814.4 117.6,831.9 123.6,849.9 127.8,864.9 129.5,871.9 131.5,884.9 134.9,914.4 135.9,923.9 136.8,937.4 137.4,942.4 139.7,952.4 140.6,955 141.5,952.4 143.9,942.4 144.4,937.4 145.4,923.9 146.4,914.4 150,884.9 152.1,871.9 153.8,864.9 158.1,849.9 164.1,831.9 169.3,814.4 172.2,805.9 176.6,795.4 183.2,781.4 198.5,753.4 206.3,739.9 213.4,728.9 221,718.4 227.9,709.9 238.1,698.4" fill="#6cc0a0"/>
<polygon points="44.1,698.4 54.2,709.4 61.4,717.9 68.3,727.4 75.5,738.4 83.7,752.4 99.3,780.9 105.1,793.4 109.8,804.4 112.5,812.4 118,830.9 124.1,849.4 128.4,864.9 130.1,871.9 132,884.4 135.6,916.4 136.4,924.4 137.7,941.4 138.1,943.9 140.1,950.4 140.6,951.5 141.2,950.4 143.2,943.9 143.6,941.4 144.9,924.4 145.7,916.4 149.5,884.4 151.4,871.9 153.1,864.9 157.6,849.4 163.7,830.9 169.2,812.4 172,804.4 176.7,793.4 182.6,780.9 198.3,752.4 206.6,738.4 213.8,727.4 220.7,717.9 227.9,709.4 238.1,698.4" fill="#6cbc80"/>
<polygon points="44.1,698.4 54.6,709.4 61.6,717.4 68.4,726.4 75.4,736.9 83.5,750.4 99.9,780.4 105,790.9 110.1,802.9 113.6,812.9 119,831.4 124.4,848.4 128.7,863.9 130.4,870.9 131.7,878.9 133.2,889.9 136.7,921.4 138.3,939.9 139,943.4 140.2,946.4 140.6,947 141.1,946.4 142.3,943.4 142.9,939.9 144.6,921.4 148.3,889.9 149.8,878.9 151.2,870.9 152.9,863.9 157.2,848.4 162.7,831.4 168.2,812.9 171.7,802.9 176.9,790.9 181.9,780.4 198.5,750.4 206.7,736.9 213.7,726.4 220.5,717.4 227.5,709.4 238.1,698.4" fill="#6cb858"/>
<polygon points="44.1,698.4 55.1,709.4 61.9,716.9 68.5,725.4 75.3,735.4 83.5,748.9 101.2,780.9 105.5,789.9 110.4,801.4 112.5,806.9 114.5,812.9 119.8,831.4 124.8,847.4 128.5,861.4 130.5,869.9 131.7,876.4 133.2,886.9 137.3,921.4 140.6,942 144.1,921.4 148.3,886.9 149.8,876.4 151.1,869.9 153.1,861.4 156.9,847.4 161.8,831.4 167.3,812.9 169.3,806.9 171.4,801.4 176.4,789.9 180.7,780.9 198.5,748.9 206.7,735.4 213.6,725.4 220.2,716.9 227.1,709.4 238.1,698.4" fill="#6cb638"/>
<polygon points="44.1,698.4 55.5,709.4 62.5,716.9 68.9,724.9 75.6,734.4 83.6,747.4 93.4,765.4 102.2,780.9 105.8,788.4 110.6,799.4 113.8,807.9 117.1,818.4 125.7,848.4 130.3,867.4 131.7,874.4 133.8,887.9 137.8,920.9 140.6,936 143.5,920.9 147.7,887.9 149.9,874.4 151.3,867.4 155.9,848.4 164.7,818.4 168,807.9 171.2,799.4 176,788.4 179.7,780.9 188.6,765.4 198.4,747.4 206.5,734.4 213.2,724.9 219.6,716.9 226.7,709.4 238.1,698.4" fill="#74ba38"/>
<polygon points="44.1,698.4 55.9,709.4 63.2,716.9 69.8,724.9 76.2,733.9 80.1,739.9 84,746.4 94.3,765.4 103.2,780.9 106,786.4 110.9,797.4 114.3,806.4 117.7,816.9 125.6,845.4 128.5,857.4 130.8,868.4 132.3,876.4 135,893.4 138.2,918.9 138.9,922.9 140.7,930 142.4,922.9 143.2,918.9 146.5,893.4 149.2,876.4 150.7,868.4 153.1,857.4 156.1,845.4 164.1,816.9 167.5,806.4 171,797.4 175.9,786.4 178.7,780.9 187.7,765.4 198,746.4 201.9,739.9 205.8,733.9 212.3,724.9 218.9,716.9 226.2,709.4 238.1,698.4" fill="#7cbe38"/>
<polygon points="44.1,698.4 55.9,708.9 63.5,716.4 66.6,719.9 70.3,724.4 76.9,733.4 80.9,739.4 84.5,745.4 95.2,765.4 104.6,781.4 106.9,785.9 111.1,795.4 114.9,804.9 118.2,814.9 121.4,826.4 127.2,848.9 131.6,870.4 138.7,912.9 140.7,923 142.6,912.9 150,870.4 154.5,848.9 160.3,826.4 163.6,814.9 166.9,804.9 170.7,795.4 175,785.9 177.3,781.4 186.7,765.4 197.5,745.4 201.2,739.4 205.1,733.4 211.8,724.4 215.5,719.9 218.6,716.4 226.3,708.9 238.1,698.4" fill="#84c23a"/>
<polygon points="44.1,698.4 56.3,708.9 64.3,716.4 70.4,723.4 77.3,732.4 82.1,739.4 86.5,746.9 96,764.9 106.3,782.4 111,792.4 115.2,802.4 118.3,811.4 121.6,822.9 125.8,839.4 127.8,848.4 129.6,857.4 136.1,894.4 140,913.4 140.7,915.8 141.4,913.4 145.3,894.4 152,857.4 153.8,848.4 155.9,839.4 160.1,822.9 163.5,811.4 166.6,802.4 170.8,792.4 175.6,782.4 185.9,764.9 195.5,746.9 200,739.4 204.7,732.4 211.7,723.4 217.9,716.4 225.8,708.9 238.1,698.4" fill="#98ca38"/>
<polygon points="44.1,698.4 56.9,708.9 64.6,715.9 70.6,722.4 77.8,731.4 82.7,738.4 87,745.4 97.1,764.4 106.7,780.9 110.3,787.9 114.5,797.4 117.6,805.4 120.6,814.9 123.5,825.4 126.8,839.4 129,849.9 134,879.4 136.1,890.9 139.4,903.9 140.2,906.9 140.7,907.9 141.2,906.9 142,903.9 145.4,890.9 147.6,879.4 152.6,849.9 154.9,839.4 158.2,825.4 161.1,814.9 164.2,805.4 167.4,797.4 171.6,787.9 175.2,780.9 184.9,764.4 195,745.4 199.3,738.4 204.3,731.4 211.5,722.4 217.5,715.9 225.3,708.9 238.1,698.4" fill="#c5dc3a"/>
<polygon points="44.1,698.4 57.5,708.9 65.7,715.9 68.7,718.9 71.9,722.4 78.9,730.9 84.2,738.4 89.3,746.4 99.2,764.9 107.5,779.4 110.4,784.9 115.3,795.9 118.6,803.9 121,811.4 123.7,820.9 126.8,833.9 129.8,847.9 134.2,875.9 136.2,886.4 138.4,895.4 140.2,900.4 140.7,901.2 141.2,900.4 143,895.4 145.3,886.4 147.3,875.9 151.9,847.9 154.9,833.9 158,820.9 160.7,811.4 163.2,803.9 166.5,795.9 171.5,784.9 174.4,779.4 182.7,764.9 192.8,746.4 197.8,738.4 203.2,730.9 210.2,722.4 213.4,718.9 216.5,715.9 224.6,708.9 238.1,698.4" fill="#eee640"/>
<polygon points="44.1,698.4 58.3,708.9 66.4,715.4 72,720.9 79.3,729.4 85.1,737.4 91.2,746.9 111.3,783.4 116.4,794.4 119.7,802.4 121.6,807.9 124.2,816.9 126.9,827.9 130.9,846.4 132.1,853.4 134.3,868.4 135.4,874.4 139.6,890.9 140.4,893.2 140.7,893.7 141.1,893.2 141.8,890.9 146.1,874.4 147.2,868.4 149.5,853.4 150.8,846.4 154.8,827.9 157.5,816.9 160.1,807.9 162.1,802.4 165.5,794.4 170.5,783.4 190.8,746.9 196.9,737.4 202.8,729.4 210.1,720.9 215.8,715.4 223.8,708.9 238.1,698.4" fill="#f7b035"/>
<polygon points="44.1,698.4 59.4,708.9 67.4,714.9 72.4,719.4 79,726.9 85.4,735.4 92.1,745.9 96.1,752.9 111.9,781.9 117.5,793.9 121,801.9 122.8,806.9 125.1,814.4 128,825.9 132.1,844.9 137,872.4 139.8,882.9 140.4,884.9 140.7,885.4 141.1,884.9 141.7,882.9 144.5,872.4 149.5,844.9 153.8,825.9 156.7,814.4 159,806.9 160.8,801.9 164.3,793.9 170,781.9 185.9,752.9 189.9,745.9 196.7,735.4 203.1,726.9 209.7,719.4 214.8,714.9 222.8,708.9 238.1,698.4" fill="#f59030"/>
<polygon points="44.1,698.4 57.6,706.9 65.1,711.9 71.2,716.4 75.1,719.9 80.9,726.4 86.7,733.9 93.3,743.9 99.2,753.9 108.5,771.4 113.6,781.4 121.4,798.4 124.4,805.9 126.2,811.9 128.2,819.4 130.5,828.9 135.1,850.4 139.7,868.4 140.4,870.8 140.8,871.2 141.1,870.8 141.9,868.4 146.5,850.4 151.2,828.9 153.5,819.4 155.5,811.9 157.4,805.9 160.5,798.4 168.3,781.4 173.4,771.4 182.8,753.9 188.7,743.9 195.4,733.9 201.2,726.4 207.1,719.9 211,716.4 217,711.9 224.6,706.9 238.1,698.4" fill="#f26a2e"/>
<polygon points="44.1,698.4 67,711.4 73.3,715.4 77.3,718.4 82.5,723.4 87.9,729.4 92.5,735.4 96.8,741.9 101.1,749.4 109.4,765.9 119.3,782.4 120.7,785.4 122.3,789.4 125.6,798.4 128.4,807.4 134.4,830.4 139.6,851.4 140.3,853.9 140.8,854.7 141.3,853.9 142,851.4 147.3,830.4 153.4,807.4 156.2,798.4 159.5,789.4 161.1,785.4 162.6,782.4 172.6,765.9 180.9,749.4 185.2,741.9 189.6,735.4 194.2,729.4 199.6,723.4 204.9,718.4 208.9,715.4 215.1,711.4 238.1,698.4" fill="#ec532b"/>
<polygon points="44.1,698.4 70.4,710.9 76.2,713.9 80.5,716.4 84,718.9 86.7,721.4 90.8,725.9 94.4,730.4 98.7,736.9 106,748.9 116,767.4 123,779.9 125.1,783.9 128.2,791.9 132.2,802.9 134.2,808.9 139.4,826.9 140.3,829.4 140.8,830 141.4,829.4 142.3,826.9 147.6,808.9 149.6,802.9 153.6,791.9 156.8,783.9 158.8,779.9 166,767.4 176,748.9 183.3,736.9 187.7,730.4 191.3,725.9 195.4,721.4 198.1,718.9 201.6,716.4 205.9,713.9 211.7,710.9 238.1,698.4" fill="#e5382a"/>
<line x1="44.1" y1="698.4" x2="238.1" y2="698.4" stroke="#40261c" stroke-width="0.8" opacity="0.75"/>
<g stroke="#505050" stroke-width="1" fill="none">
<path d="M44.3 697.3 V963.6 H319.8"/>
<path d="M51.7 963.6 v-5.5M96.3 963.6 v-5.5M140.9 963.6 v-5.5M185.5 963.6 v-5.5M230.1 963.6 v-5.5M274.7 963.6 v-5.5M319.3 963.6 v-5.5M44.3 919.4 h5.5M44.3 875 h5.5M44.3 830.6 h5.5M44.3 786.2 h5.5M44.3 741.8 h5.5M44.3 697.8 h5.5"/>
</g>
<line x1="140.5" y1="963.2" x2="140.5" y2="958" stroke="#111" stroke-width="1.1"/>
<g font-family='"Liberation Serif", "DejaVu Serif", serif' font-size="13" fill="#151515">
<text transform="translate(40.2 974.95) scale(1 1.08)"><tspan font-size="17" dy="-0.5">−</tspan><tspan dy="0.5" dx="-0.6">0.10</tspan></text>
<text transform="translate(82.7 974.95) scale(1 1.08)"><tspan font-size="17" dy="-0.5">−</tspan><tspan dy="0.5" dx="-0.6">0.05</tspan></text>
<text transform="translate(140.2 974.95) scale(1 1.08)" text-anchor="middle">0</text>
<text transform="translate(185.5 974.95) scale(1 1.08)" text-anchor="middle">0.05</text>
<text transform="translate(229.7 974.95) scale(1 1.08)" text-anchor="middle">0.10</text>
<text transform="translate(273.5 974.95) scale(1 1.08)" text-anchor="middle">0.15</text>
<text transform="translate(318 974.95) scale(1 1.08)" text-anchor="middle">0.20</text>
<text transform="translate(40.9 969.1) scale(1 1.08)" text-anchor="end">0</text>
<text transform="translate(40.9 925) scale(1 1.08)" text-anchor="end">0.05</text>
<text transform="translate(40.9 880.6) scale(1 1.08)" text-anchor="end">0.10</text>
<text transform="translate(40.9 836.2) scale(1 1.08)" text-anchor="end">0.15</text>
<text transform="translate(40.9 791.8) scale(1 1.08)" text-anchor="end">0.20</text>
<text transform="translate(40.9 747.4) scale(1 1.08)" text-anchor="end">0.25</text>
<text transform="translate(40.9 704.4) scale(1 1.08)" text-anchor="end">0.30</text>
<text x="179.3" y="987.6"><tspan font-style="italic">x</tspan><tspan font-size="18" dx="0.4" dy="3.4" textLength="6.4" lengthAdjust="spacingAndGlyphs">/</tspan><tspan dy="-3.4" dx="0.3">m</tspan></text>
<text transform="translate(12.1 842) rotate(-90)"><tspan font-style="italic">y</tspan><tspan font-size="18" dx="0.4" dy="3.4" textLength="6.4" lengthAdjust="spacingAndGlyphs">/</tspan><tspan dy="-3.4" dx="0.3">m</tspan></text>
</g>
<text x="183" y="1009.9" font-family='"Liberation Serif", "DejaVu Serif", serif' font-size="15.6" fill="#151515" text-anchor="middle"><tspan font-weight="bold">(c)</tspan> 440°C</text>
<text x="255.2" y="710.4" font-family='"Liberation Serif", "DejaVu Serif", serif' font-size="13" fill="#151515" textLength="63" lengthAdjust="spacingAndGlyphs">Temperature</text>
<rect x="264.7" y="716.8" width="14.2" height="6" fill="#e5382a"/>
<rect x="264.7" y="722.5" width="14.2" height="11.52" fill="#ec532b"/>
<rect x="264.7" y="733.72" width="14.2" height="11.52" fill="#f26a2e"/>
<rect x="264.7" y="744.94" width="14.2" height="11.52" fill="#f59030"/>
<rect x="264.7" y="756.16" width="14.2" height="11.52" fill="#f7b035"/>
<rect x="264.7" y="767.38" width="14.2" height="11.52" fill="#eee640"/>
<rect x="264.7" y="778.6" width="14.2" height="11.52" fill="#c5dc3a"/>
<rect x="264.7" y="789.82" width="14.2" height="11.52" fill="#98ca38"/>
<rect x="264.7" y="801.04" width="14.2" height="11.52" fill="#84c23a"/>
<rect x="264.7" y="812.26" width="14.2" height="11.52" fill="#7cbe38"/>
<rect x="264.7" y="823.48" width="14.2" height="11.52" fill="#74ba38"/>
<rect x="264.7" y="834.7" width="14.2" height="11.52" fill="#6cb638"/>
<rect x="264.7" y="845.92" width="14.2" height="11.52" fill="#6cb858"/>
<rect x="264.7" y="857.14" width="14.2" height="11.52" fill="#6cbc80"/>
<rect x="264.7" y="868.36" width="14.2" height="11.52" fill="#6cc0a0"/>
<rect x="264.7" y="879.58" width="14.2" height="11.52" fill="#70c8c8"/>
<rect x="264.7" y="890.8" width="14.2" height="11.52" fill="#50b0e0"/>
<rect x="264.7" y="902.02" width="14.2" height="11.52" fill="#4a80c4"/>
<rect x="264.7" y="913.24" width="14.2" height="11.52" fill="#4258a8"/>
<rect x="264.7" y="924.46" width="14.2" height="11.52" fill="#3e4e9e"/>
<rect x="264.7" y="935.68" width="14.2" height="5.52" fill="#3a4596"/>
<path d="M264.7 722.5 h14.2M264.7 733.72 h14.2M264.7 744.94 h14.2M264.7 756.16 h14.2M264.7 767.38 h14.2M264.7 778.6 h14.2M264.7 789.82 h14.2M264.7 801.04 h14.2M264.7 812.26 h14.2M264.7 823.48 h14.2M264.7 834.7 h14.2M264.7 845.92 h14.2M264.7 857.14 h14.2M264.7 868.36 h14.2M264.7 879.58 h14.2M264.7 890.8 h14.2M264.7 902.02 h14.2M264.7 913.24 h14.2M264.7 924.46 h14.2M264.7 935.68 h14.2" stroke="#30281c" stroke-width="0.7" opacity="0.7"/>
<g font-family='"Liberation Serif", "DejaVu Serif", serif' font-size="12.6" fill="#151515">
<text transform="translate(284.6 726.35) scale(1 1.06)">700</text>
<text transform="translate(284.6 737.45) scale(1 1.06)">680</text>
<text transform="translate(284.6 748.95) scale(1 1.06)">660</text>
<text transform="translate(284.6 761.15) scale(1 1.06)">640</text>
<text transform="translate(284.6 772.05) scale(1 1.06)">620</text>
<text transform="translate(284.6 782.65) scale(1 1.06)">600</text>
<text transform="translate(284.6 794.95) scale(1 1.06)">580</text>
<text transform="translate(284.6 805.85) scale(1 1.06)">560</text>
<text transform="translate(284.6 817.45) scale(1 1.06)">540</text>
<text transform="translate(284.6 828.95) scale(1 1.06)">520</text>
<text transform="translate(284.6 840.05) scale(1 1.06)">500</text>
<text transform="translate(284.6 851.35) scale(1 1.06)">480</text>
<text transform="translate(284.6 861.95) scale(1 1.06)">460</text>
<text transform="translate(284.6 873.95) scale(1 1.06)">440</text>
<text transform="translate(284.6 885.45) scale(1 1.06)">420</text>
<text transform="translate(284.6 897.45) scale(1 1.06)">400</text>
<text transform="translate(284.6 908.45) scale(1 1.06)">380</text>
<text transform="translate(284.6 919.75) scale(1 1.06)">360</text>
<text transform="translate(284.6 931.05) scale(1 1.06)">340</text>
<text transform="translate(284.6 942.65) scale(1 1.06)">320</text>
</g>
</g>
</svg>
</body></html>
